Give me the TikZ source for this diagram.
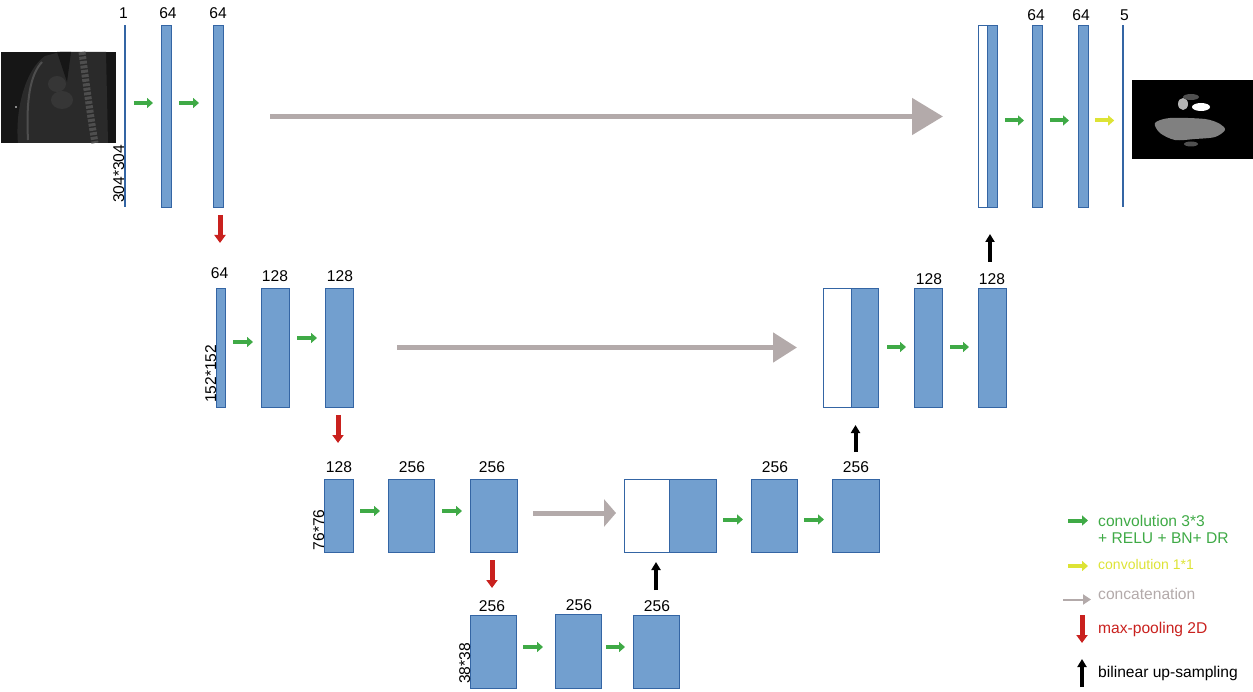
\documentclass[tikz,border=0pt]{standalone}
\usepackage{fontspec}
\setmainfont{Liberation Sans}
\usetikzlibrary{arrows.meta,calc}
\definecolor{bfill}{HTML}{729FCF}
\definecolor{bdraw}{HTML}{3465A4}
\definecolor{cgreen}{HTML}{3FAA46}
\definecolor{cyellow}{HTML}{DDE335}
\definecolor{cgrey}{HTML}{B3AAAA}
\definecolor{cred}{HTML}{C9211E}
\definecolor{ctbg}{HTML}{161616}
\definecolor{ctbody}{HTML}{2A2A2A}
\definecolor{ctmid}{HTML}{363636}
\definecolor{ctbone}{HTML}{4E4E4E}
\definecolor{seggrey}{HTML}{808080}
\definecolor{seglight}{HTML}{B4B4B4}
\definecolor{segdark}{HTML}{505050}
\begin{document}
\begin{tikzpicture}[x=1pt,y=-1pt,
 font=\fontsize{15.6}{18}\selectfont,
 blk/.style={draw=bdraw, fill=bfill, line width=0.9pt, inner sep=0pt, outer sep=0pt},
 wblk/.style={draw=bdraw, fill=white, line width=0.9pt, inner sep=0pt, outer sep=0pt},
 thinblk/.style={fill=bdraw, draw=none, inner sep=0pt, outer sep=0pt, minimum width=1.6pt, minimum height=182pt},
 lbl/.style={anchor=base, inner sep=0pt},
 dimlbl/.style={rotate=90, anchor=base west, inner sep=0pt},
 conv/.style={draw=cgreen, line width=4pt, -{Triangle[length=6pt,width=10pt]}},
 convone/.style={draw=cyellow, line width=4pt, -{Triangle[length=6pt,width=10pt]}},
 pool/.style={draw=cred, line width=5pt, -{Triangle[length=8pt,width=11pt]}},
 upsmp/.style={draw=black, line width=4pt, -{Triangle[length=8pt,width=9pt]}},
 legtxt/.style={anchor=base west, inner sep=0pt},
]
\useasboundingbox (0,0) rectangle (1253,692);

% ---------- input image ----------
\fill[ctbg] (1,52) rectangle (116,143);
\fill[ctbody] (18,143) .. controls (15,110) and (25,70) .. (45,56) -- (60,52) -- (106,52) -- (108,143) -- cycle;
\fill[ctbg] (57,52) -- (71,52) -- (67,82) -- cycle;
\fill[ctmid] (57,84) ellipse [x radius=9, y radius=8];
\fill[ctmid] (62,100) ellipse [x radius=11, y radius=9];
\draw[ctbone, line width=2pt] (28,140) .. controls (26,100) and (30,75) .. (42,62);
\draw[ctbone, line width=7pt, dash pattern=on 3pt off 1.5pt] (82,52) .. controls (87,90) and (91,120) .. (95,143);
\fill[white] (16,107) circle (0.8);

% ---------- output image ----------
\fill[black] (1132,80) rectangle (1253,159);
\fill[seggrey] plot[smooth cycle] coordinates {(1155,123) (1170,118) (1205,119) (1220,124) (1225,130) (1215,137) (1195,139) (1175,140) (1160,133)};
\fill[white] (1201,107) ellipse [x radius=9, y radius=4];
\fill[seglight] (1183,104) ellipse [x radius=5, y radius=6];
\fill[segdark] (1191,97) ellipse [x radius=8, y radius=3];
\fill[segdark] (1191,144) ellipse [x radius=7, y radius=2.5];

% ---------- level 1 ----------
\node[thinblk] (in) at (125,116) {};
\node[blk, minimum width=10pt, minimum height=182pt] (b1) at (166,116) {};
\node[blk, minimum width=10pt, minimum height=182pt] (b2) at (218,116) {};
\node[wblk, minimum width=9pt, minimum height=182pt] (tw) at (982.5,116) {};
\node[blk, minimum width=10pt, minimum height=182pt] (b3) at (992,116) {};
\node[blk, minimum width=10pt, minimum height=182pt] (b4) at (1037,116) {};
\node[blk, minimum width=10pt, minimum height=182pt] (b5) at (1083,116) {};
\node[thinblk] (out) at (1123,116) {};

\node[lbl] (lin) at (123.5,18.5) {1};
\node[lbl] (lb1) at (168,18.5) {64};
\node[lbl] (lb2) at (218,18.5) {64};
\node[lbl] (lb4) at (1036,21) {64};
\node[lbl] (lb5) at (1081,21) {64};
\node[lbl] (lout) at (1124.5,21) {5};
\node[dimlbl] (din) at ($(in.south)+(-1,-4)$) {304*304};

% ---------- level 2 ----------
\node[blk, minimum width=9pt, minimum height=119pt] (c1) at (220.5,347.5) {};
\node[blk, minimum width=28pt, minimum height=119pt] (c2) at (275,347.5) {};
\node[blk, minimum width=28pt, minimum height=119pt] (c3) at (339,347.5) {};
\node[wblk, minimum width=28pt, minimum height=119pt] (mw) at (837,347.5) {};
\node[blk, minimum width=27pt, minimum height=119pt] (mb) at (864.5,347.5) {};
\node[blk, minimum width=28pt, minimum height=119pt] (c4) at (928,347.5) {};
\node[blk, minimum width=28pt, minimum height=119pt] (c5) at (992,347.5) {};

\node[lbl] (lc1) at (219.5,279) {64};
\node[lbl] (lc2) at (275,282) {128};
\node[lbl] (lc3) at (340,282) {128};
\node[lbl] (lc4) at (929,285) {128};
\node[lbl] (lc5) at (992,285) {128};
\node[dimlbl] (dc1) at ($(c1.south west)+(0,-4)$) {152*152};

% ---------- level 3 ----------
\node[blk, minimum width=29pt, minimum height=73pt] (d1) at (338.5,515.5) {};
\node[blk, minimum width=46pt, minimum height=73pt] (d2) at (411,515.5) {};
\node[blk, minimum width=47pt, minimum height=73pt] (d3) at (493.5,515.5) {};
\node[wblk, minimum width=45pt, minimum height=73pt] (lw) at (646.5,515.5) {};
\node[blk, minimum width=47pt, minimum height=73pt] (lb) at (692.5,515.5) {};
\node[blk, minimum width=46pt, minimum height=73pt] (d4) at (774,515.5) {};
\node[blk, minimum width=47pt, minimum height=73pt] (d5) at (855.5,515.5) {};

\node[lbl] (ld1) at (339,472) {128};
\node[lbl] (ld2) at (412,472) {256};
\node[lbl] (ld3) at (492,472) {256};
\node[lbl] (ld4) at (775,472) {256};
\node[lbl] (ld5) at (856,472) {256};
\node[dimlbl] (dd1) at ($(d1.south west)+(0,-1.5)$) {76*76};

% ---------- level 4 ----------
\node[blk, minimum width=46pt, minimum height=73pt] (e1) at (493,651.5) {};
\node[blk, minimum width=46pt, minimum height=74pt] (e2) at (578,651) {};
\node[blk, minimum width=46pt, minimum height=73pt] (e3) at (656,651.5) {};

\node[lbl] (le1) at (492,611) {256};
\node[lbl] (le2) at (579,610) {256};
\node[lbl] (le3) at (657,611) {256};
\node[dimlbl] (de1) at ($(e1.south west)+(0,-4)$) {38*38};

% ---------- convolutions ----------
\draw[conv] ($(in.east |- 0,103)+(8,0)$) -- ($(b1.west |- 0,103)+(-8,0)$);
\draw[conv] ($(b1.east |- 0,103)+(8,0)$) -- ($(b2.west |- 0,103)+(-14,0)$);
\draw[conv] ($(b3.east |- 0,120.5)+(8,0)$) -- ($(b4.west |- 0,120.5)+(-8,0)$);
\draw[conv] ($(b4.east |- 0,120.5)+(8,0)$) -- ($(b5.west |- 0,120.5)+(-9,0)$);
\draw[convone] ($(b5.east |- 0,120.5)+(7,0)$) -- ($(out.west |- 0,120.5)+(-8,0)$);

\draw[conv] ($(c1.east |- 0,342)+(8,0)$) -- ($(c2.west |- 0,342)+(-8,0)$);
\draw[conv] ($(c2.east |- 0,338)+(8,0)$) -- ($(c3.west |- 0,338)+(-8,0)$);
\draw[conv] ($(mb.east |- 0,347)+(9,0)$) -- ($(c4.west |- 0,347)+(-8,0)$);
\draw[conv] ($(c4.east |- 0,347)+(8,0)$) -- ($(c5.west |- 0,347)+(-9,0)$);

\draw[conv] ($(d1.east |- 0,511)+(7,0)$) -- ($(d2.west |- 0,511)+(-8,0)$);
\draw[conv] ($(d2.east |- 0,511)+(8,0)$) -- ($(d3.west |- 0,511)+(-8,0)$);
\draw[conv] ($(lb.east |- 0,519.5)+(7,0)$) -- ($(d4.west |- 0,519.5)+(-8,0)$);
\draw[conv] ($(d4.east |- 0,519.5)+(7,0)$) -- ($(d5.west |- 0,519.5)+(-8,0)$);

\draw[conv] ($(e1.east |- 0,647)+(7,0)$) -- ($(e2.west |- 0,647)+(-12,0)$);
\draw[conv] ($(e2.east |- 0,647)+(5,0)$) -- ($(e3.west |- 0,647)+(-8,0)$);

% ---------- concatenations ----------
\draw[draw=cgrey, line width=5pt, -{Triangle[length=31pt,width=36pt]}] ($(b2.east |- 0,116.5)+(47,0)$) -- ($(tw.west |- 0,116.5)+(-35,0)$);
\draw[draw=cgrey, line width=5pt, -{Triangle[length=24pt,width=29pt]}] ($(c3.east |- 0,347.5)+(44,0)$) -- ($(mw.west |- 0,347.5)+(-26,0)$);
\draw[draw=cgrey, line width=5pt, -{Triangle[length=12pt,width=27pt]}] ($(d3.east |- 0,513)+(16,0)$) -- ($(lw.west |- 0,513)+(-8,0)$);

% ---------- max pooling ----------
\draw[pool] ($(b2.south)+(2,8)$) -- ($(c1.north |- 0,243)+(-0.5,0)$);
\draw[pool] ($(c3.south)+(-1,8)$) -- ($(c3.south)+(-1,36)$);
\draw[pool] ($(d3.south)+(-1.5,8)$) -- ($(e1.north)+(-1,-27)$);

% ---------- up-sampling ----------
\draw[upsmp] ($(e3.north)+(0,-25)$) -- ($(lw.south)+(9.5,10)$);
\draw[upsmp] ($(d5.north)+(0,-27)$) -- ($(mb.south)+(-9,18)$);
\draw[upsmp] ($(c5.north)+(-2,-26)$) -- ($(b3.south)+(-2,27)$);

% ---------- legend ----------
\coordinate (g1a) at (1068,520.5);
\coordinate (g1b) at (1088,520.5);
\draw[conv] (g1a) -- (g1b);
\node[legtxt, text=cgreen] (t1) at (1098,526) {convolution 3*3};
\node[legtxt, text=cgreen] (t1b) at (1098,543) {+ RELU + BN+ DR};

\coordinate (g2a) at (1068,566);
\coordinate (g2b) at (1088,566);
\draw[convone] (g2a) -- (g2b);
\node[legtxt, text=cyellow, font=\fontsize{14}{16}\selectfont] (t2) at (1098,569.5) {convolution 1*1};

\coordinate (g3a) at (1063,599.5);
\coordinate (g3b) at (1091,599.5);
\draw[draw=cgrey, line width=2pt, -{Triangle[length=8pt,width=10pt]}] (g3a) -- (g3b);
\node[legtxt, text=cgrey] (t3) at (1098,599) {concatenation};

\coordinate (g4a) at (1082,615);
\coordinate (g4b) at (1082,643);
\draw[pool] (g4a) -- (g4b);
\node[legtxt, text=cred] (t4) at (1098,633.5) {max-pooling 2D};

\coordinate (g5a) at (1082,687);
\coordinate (g5b) at (1082,659);
\draw[upsmp] (g5a) -- (g5b);
\node[legtxt] (t5) at (1098,677.5) {bilinear up-sampling};
\end{tikzpicture}
\end{document}
